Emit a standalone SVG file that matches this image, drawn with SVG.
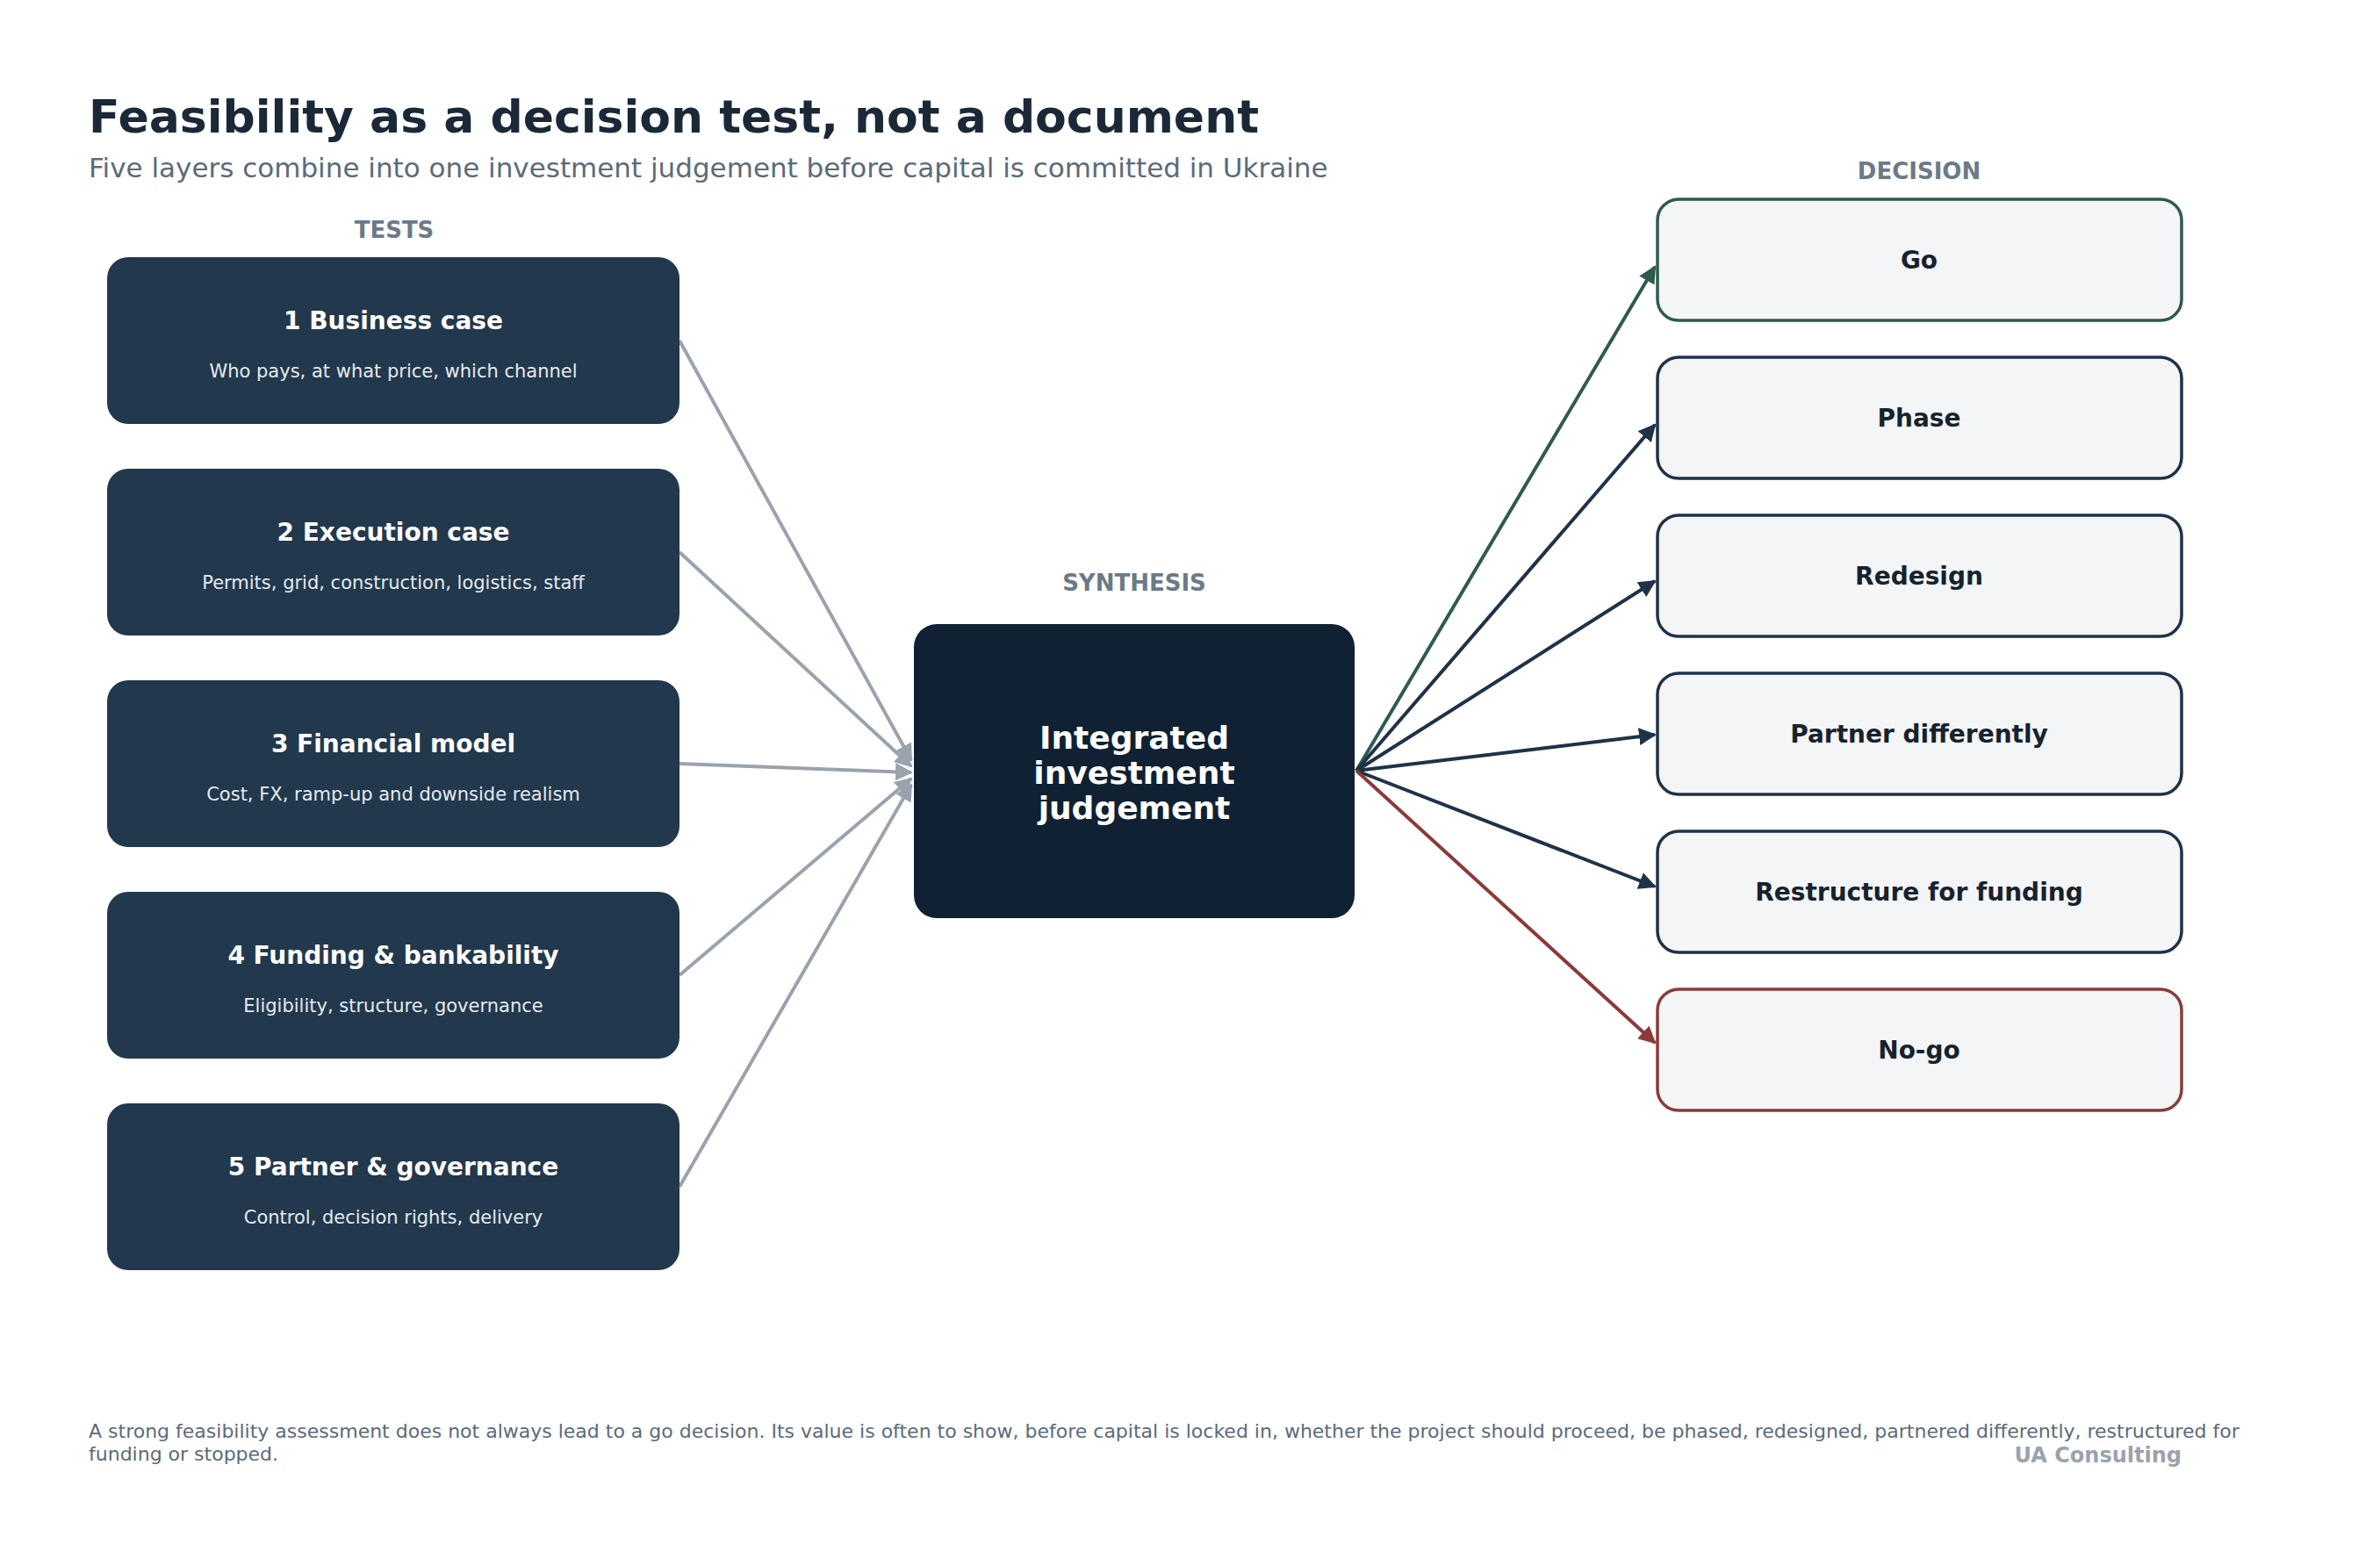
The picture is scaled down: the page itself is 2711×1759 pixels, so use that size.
<svg xmlns="http://www.w3.org/2000/svg" width="2711" height="1759" viewBox="0 0 2711 1759">
<style>
text{font-family:"DejaVu Sans","Liberation Sans",sans-serif}
.hdr{font-size:26px;font-weight:bold;fill:#6b7a88;text-anchor:middle}
.test rect{fill:#22384d}
.tt{font-size:28px;font-weight:bold;fill:#fff;text-anchor:middle}
.ts{font-size:21px;fill:#e6ebf0;text-anchor:middle}
.dec rect{fill:#f3f5f7;stroke:#1f3247;stroke-width:3.5}
.dt{font-size:28px;font-weight:bold;fill:#17222e;text-anchor:middle}
.in{stroke:#9aa3ad;stroke-width:4;fill:none;marker-end:url(#ag)}
.out{stroke:#1f3247;stroke-width:4;fill:none;marker-end:url(#ad)}
</style>
<defs>
<marker id="ag" viewBox="0 0 10 10" refX="9" refY="5" markerWidth="5" markerHeight="5" orient="auto"><path d="M0,0L10,5L0,10z" fill="#9aa3ad"/></marker>
<marker id="ad" viewBox="0 0 10 10" refX="9" refY="5" markerWidth="5" markerHeight="5" orient="auto"><path d="M0,0L10,5L0,10z" fill="#1f3247"/></marker>
<marker id="agr" viewBox="0 0 10 10" refX="9" refY="5" markerWidth="5" markerHeight="5" orient="auto"><path d="M0,0L10,5L0,10z" fill="#2f5a4f"/></marker>
<marker id="ar" viewBox="0 0 10 10" refX="9" refY="5" markerWidth="5" markerHeight="5" orient="auto"><path d="M0,0L10,5L0,10z" fill="#8b3a3a"/></marker>
</defs>
<rect width="2711" height="1759" fill="#fff"/>
<text x="101" y="151" font-size="52" font-weight="bold" fill="#1b2838">Feasibility as a decision test, not a document</text>
<text x="101" y="202" font-size="31" fill="#5b6b7a">Five layers combine into one investment judgement before capital is committed in Ukraine</text>
<text class="hdr" x="449" y="271">TESTS</text>
<text class="hdr" x="1292" y="673">SYNTHESIS</text>
<text class="hdr" x="2186" y="204">DECISION</text>
<g id="connectors">
<line class="in" x1="774" y1="388" x2="1038" y2="866"/>
<line class="in" x1="774" y1="629" x2="1038" y2="873"/>
<line class="in" x1="774" y1="870" x2="1038" y2="880"/>
<line class="in" x1="774" y1="1111" x2="1038" y2="887"/>
<line class="in" x1="774" y1="1352" x2="1038" y2="894"/>
<line class="out" x1="1545" y1="878" x2="1885" y2="304" stroke="#2f5a4f" style="stroke:#2f5a4f;marker-end:url(#agr)"/>
<line class="out" x1="1545" y1="878" x2="1885" y2="484"/>
<line class="out" x1="1545" y1="878" x2="1885" y2="662"/>
<line class="out" x1="1545" y1="878" x2="1885" y2="837"/>
<line class="out" x1="1545" y1="878" x2="1885" y2="1010"/>
<line class="out" x1="1545" y1="878" x2="1885" y2="1188" style="stroke:#8b3a3a;marker-end:url(#ar)"/>
</g>
<g id="t1" class="test"><rect x="122" y="293" width="652" height="190" rx="24"/><text class="tt" x="448" y="375">1  Business case</text><text class="ts" x="448" y="430">Who pays, at what price, which channel</text></g>
<g id="t2" class="test"><rect x="122" y="534" width="652" height="190" rx="24"/><text class="tt" x="448" y="616">2  Execution case</text><text class="ts" x="448" y="671">Permits, grid, construction, logistics, staff</text></g>
<g id="t3" class="test"><rect x="122" y="775" width="652" height="190" rx="24"/><text class="tt" x="448" y="857">3  Financial model</text><text class="ts" x="448" y="912">Cost, FX, ramp-up and downside realism</text></g>
<g id="t4" class="test"><rect x="122" y="1016" width="652" height="190" rx="24"/><text class="tt" x="448" y="1098">4  Funding &amp; bankability</text><text class="ts" x="448" y="1153">Eligibility, structure, governance</text></g>
<g id="t5" class="test"><rect x="122" y="1257" width="652" height="190" rx="24"/><text class="tt" x="448" y="1339">5  Partner &amp; governance</text><text class="ts" x="448" y="1394">Control, decision rights, delivery</text></g>
<g id="synth"><rect x="1041" y="711" width="502" height="335" rx="26" fill="#0f2133"/>
<text x="1292" y="853" font-size="36" font-weight="bold" fill="#fff" text-anchor="middle">Integrated</text>
<text x="1292" y="893" font-size="36" font-weight="bold" fill="#fff" text-anchor="middle">investment</text>
<text x="1292" y="933" font-size="36" font-weight="bold" fill="#fff" text-anchor="middle">judgement</text></g>
<g id="d1" class="dec"><rect x="1888" y="227" width="597" height="138" rx="24" style="stroke:#2f5a4f"/><text class="dt" x="2186" y="306">Go</text></g>
<g id="d2" class="dec"><rect x="1888" y="407" width="597" height="138" rx="24"/><text class="dt" x="2186" y="486">Phase</text></g>
<g id="d3" class="dec"><rect x="1888" y="587" width="597" height="138" rx="24"/><text class="dt" x="2186" y="666">Redesign</text></g>
<g id="d4" class="dec"><rect x="1888" y="767" width="597" height="138" rx="24"/><text class="dt" x="2186" y="846">Partner differently</text></g>
<g id="d5" class="dec"><rect x="1888" y="947" width="597" height="138" rx="24"/><text class="dt" x="2186" y="1026">Restructure for funding</text></g>
<g id="d6" class="dec"><rect x="1888" y="1127" width="597" height="138" rx="24" style="stroke:#8b3a3a"/><text class="dt" x="2186" y="1206">No-go</text></g>
<text x="101" y="1638" font-size="22" fill="#5b6b7a">A strong feasibility assessment does not always lead to a go decision. Its value is often to show, before capital is locked in, whether the project should proceed, be phased, redesigned, partnered differently, restructured for</text>
<text x="101" y="1664" font-size="22" fill="#5b6b7a">funding or stopped.</text>
<text x="2485" y="1666" font-size="24" font-weight="bold" fill="#9aa3ad" text-anchor="end">UA Consulting</text>
</svg>
